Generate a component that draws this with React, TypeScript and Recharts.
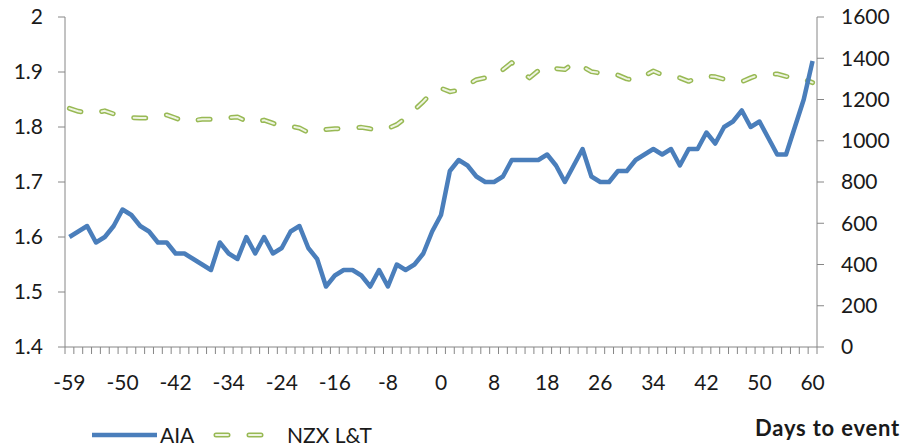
import React from 'react';
import { LineChart, Line, XAxis, YAxis } from 'recharts';

// trading days relative to the event (only every 6th is labelled)
const days = [
  -59, -58, -57, -56, -52, -51, -50, -49, -48, -45, -44, -43, -42, -41, -38, -37, -36, -35,
  -34, -31, -30, -29, -28, -27, -24, -23, -22, -21, -20, -17, -16, -15, -14, -13, -10, -9,
  -8, -7, -6, -3, -2, -1, 0, 1, 4, 5, 6, 7, 8, 11, 12, 13, 14, 15, 18, 19, 20, 21, 22, 25,
  26, 27, 28, 29, 32, 33, 34, 35, 36, 39, 40, 41, 42, 43, 46, 47, 48, 49, 50, 53, 54, 55,
  56, 57, 60,
];

const aia = [
  1.6, 1.61, 1.62, 1.59, 1.6, 1.62, 1.65, 1.64, 1.62, 1.61, 1.59, 1.59, 1.57, 1.57, 1.56,
  1.55, 1.54, 1.59, 1.57, 1.56, 1.6, 1.57, 1.6, 1.57, 1.58, 1.61, 1.62, 1.58, 1.56, 1.51,
  1.53, 1.54, 1.54, 1.53, 1.51, 1.54, 1.51, 1.55, 1.54, 1.55, 1.57, 1.61, 1.64, 1.72, 1.74,
  1.73, 1.71, 1.7, 1.7, 1.71, 1.74, 1.74, 1.74, 1.74, 1.75, 1.73, 1.7, 1.73, 1.76, 1.71,
  1.7, 1.7, 1.72, 1.72, 1.74, 1.75, 1.76, 1.75, 1.76, 1.73, 1.76, 1.76, 1.79, 1.77, 1.8,
  1.81, 1.83, 1.8, 1.81, 1.78, 1.75, 1.75, 1.8, 1.85, 1.92,
];

const nzx = [
  1157, 1143, 1135, 1136, 1145, 1130, 1120, 1112, 1110, 1110, 1116, 1125, 1110, 1093, 1098,
  1104, 1104, 1105, 1112, 1115, 1095, 1088, 1100, 1085, 1070, 1070, 1062, 1040, 1046, 1055,
  1058, 1060, 1062, 1065, 1058, 1052, 1060, 1078, 1110, 1150, 1190, 1235, 1255, 1238, 1245,
  1270, 1296, 1305, 1312, 1345, 1379, 1340, 1305, 1340, 1362, 1350, 1345, 1378, 1360, 1335,
  1328, 1330, 1318, 1300, 1293, 1315, 1338, 1320, 1310, 1305, 1288, 1305, 1312, 1310, 1298,
  1290, 1286, 1305, 1320, 1322, 1324, 1312, 1303, 1298, 1282,
];

const leftTicks = [1.4, 1.5, 1.6, 1.7, 1.8, 1.9, 2];
const rightTicks = [0, 200, 400, 600, 800, 1000, 1200, 1400, 1600];

const rows = days.map((d, i) => ({ day: d, aia: aia[i], nzx: nzx[i] }));

const FONT = 'Lato, "Open Sans", sans-serif';
const AXIS = '#868686';
const BLUE = '#4A7EBB';
const GREEN = '#98B954';
const GREEN_IN = '#EEF4E2';

const catW = 752 / days.length;
const labelEvery = 6;

function DayTick(props: any) {
  const { x, y, payload } = props;
  const i = days.indexOf(payload.value);
  const last = i === days.length - 1;
  return (
    <g>
      <line x1={x - catW / 2} x2={x - catW / 2} y1={y} y2={y + 7} stroke={AXIS} strokeWidth={1} />
      {last && <line x1={x + catW / 2} x2={x + catW / 2} y1={y} y2={y + 7} stroke={AXIS} strokeWidth={1} />}
      {i % labelEvery === 0 && (
        <text x={x} y={y + 43} textAnchor="middle" fontFamily={FONT} fontSize={21} fill="#1a1a1a">
          {payload.value}
        </text>
      )}
    </g>
  );
}

export default function App() {
  return (
    <div style={{ position: 'absolute', left: 0, top: 0, width: 906, height: 446, background: '#fff' }}>
      <LineChart
        width={906}
        height={446}
        data={rows}
        margin={{ top: 17, right: 0, bottom: 39, left: 0 }}
      >
        <XAxis
          dataKey="day"
          interval={0}
          height={60}
          tickSize={0}
          tickMargin={0}
          tickLine={false}
          tick={<DayTick />}
          axisLine={{ stroke: AXIS }}
          padding={{ left: catW / 2, right: catW / 2 }}
        />
        <YAxis
          yAxisId="left"
          width={65}
          domain={[1.4, 2]}
          ticks={leftTicks}
          interval={0}
          tickSize={7}
          tickMargin={15}
          axisLine={{ stroke: AXIS }}
          tickLine={{ stroke: AXIS }}
          tick={{ fontFamily: FONT, fontSize: 21, fill: '#1a1a1a' }}
        />
        <YAxis
          yAxisId="right"
          orientation="right"
          width={89}
          domain={[0, 1600]}
          ticks={rightTicks}
          interval={0}
          tickSize={7}
          tickMargin={17}
          axisLine={{ stroke: AXIS }}
          tickLine={{ stroke: AXIS }}
          tick={{ fontFamily: FONT, fontSize: 21, fill: '#1a1a1a', textAnchor: 'start' }}
        />
        <Line
          yAxisId="right"
          dataKey="nzx"
          type="linear"
          stroke={GREEN}
          strokeWidth={5}
          strokeDasharray="12 21"
          strokeLinecap="round"
          strokeLinejoin="round"
          dot={false}
          activeDot={false}
          isAnimationActive={false}
        />
        <Line
          yAxisId="right"
          dataKey="nzx"
          type="linear"
          stroke={GREEN_IN}
          strokeWidth={2}
          strokeDasharray="12 21"
          strokeLinecap="round"
          strokeLinejoin="round"
          dot={false}
          activeDot={false}
          isAnimationActive={false}
        />
        <Line
          yAxisId="left"
          dataKey="aia"
          type="linear"
          stroke={BLUE}
          strokeWidth={4.5}
          strokeLinejoin="round"
          dot={false}
          activeDot={false}
          isAnimationActive={false}
        />
      </LineChart>
      <svg
        width={906}
        height={446}
        style={{ position: 'absolute', left: 0, top: 0, pointerEvents: 'none' }}
      >
        <line x1={92} x2={157} y1={435} y2={435} stroke={BLUE} strokeWidth={4.5} />
        <text x={160} y={443} fontFamily={FONT} fontSize={21} fill="#1a1a1a">AIA</text>
        <line
          x1={216}
          x2={266}
          y1={435}
          y2={435}
          stroke={GREEN}
          strokeWidth={5}
          strokeDasharray="12 21"
          strokeLinecap="round"
        />
        <line
          x1={216}
          x2={266}
          y1={435}
          y2={435}
          stroke={GREEN_IN}
          strokeWidth={2}
          strokeDasharray="12 21"
          strokeLinecap="round"
        />
        <text x={287} y={443} fontFamily={FONT} fontSize={21} fill="#1a1a1a">NZX L&amp;T</text>
        <text
          x={755}
          y={436}
          fontFamily={FONT}
          fontSize={22}
          fontWeight="bold"
          letterSpacing={0.8}
          fill="#1a1a1a"
        >
          Days to event
        </text>
      </svg>
    </div>
  );
}
